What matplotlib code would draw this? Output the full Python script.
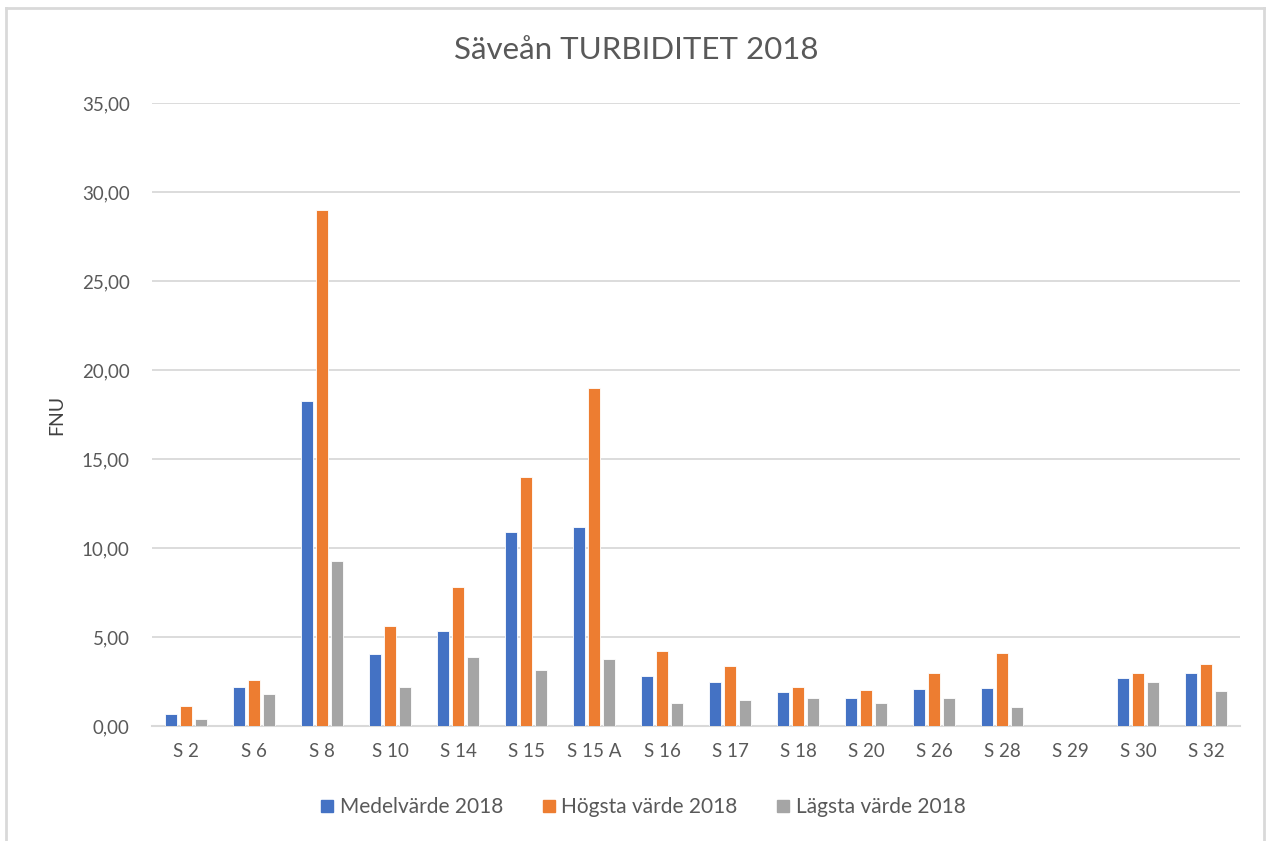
import matplotlib
matplotlib.use("Agg")
import matplotlib.pyplot as plt
import numpy as np
from matplotlib.lines import Line2D
from matplotlib.ticker import FuncFormatter

# Säveån turbiditet 2018 (FNU)
stations = ["S 2", "S 6", "S 8", "S 10", "S 14", "S 15", "S 15 A", "S 16",
            "S 17", "S 18", "S 20", "S 26", "S 28", "S 29", "S 30", "S 32"]
medel = [0.66, 2.18, 18.24, 4.06, 5.32, 10.88, 11.16, 2.80,
         2.46, 1.90, 1.56, 2.10, 2.12, 0.0, 2.67, 2.97]
hogsta = [1.13, 2.59, 29.0, 5.60, 7.81, 14.0, 19.0, 4.21,
          3.36, 2.18, 2.05, 2.95, 4.08, 0.0, 2.97, 3.51]
lagsta = [0.38, 1.77, 9.25, 2.18, 3.85, 3.16, 3.78, 1.28,
          1.48, 1.56, 1.28, 1.56, 1.07, 0.0, 2.46, 1.97]

series = [
    ("Medelvärde 2018", medel, "#4472C4"),
    ("Högsta värde 2018", hogsta, "#ED7D31"),
    ("Lägsta värde 2018", lagsta, "#A5A5A5"),
]

plt.rcParams["font.family"] = ["Lato", "DejaVu Sans"]
text_col = "#595959"
grid_col = "#D9D9D9"

fig = plt.figure(figsize=(12.66, 8.41), dpi=100)
ax = fig.add_axes([152 / 1266, 1 - 726 / 841, (1240 - 152) / 1266, (726 - 103) / 841])

x = np.arange(len(stations))
width = 0.17
step = 0.22
for i, (name, vals, col) in enumerate(series):
    ax.bar(x + (i - 1) * step, vals, width, color=col, label=name,
           edgecolor="white", linewidth=0.6, zorder=3)

ax.set_xlim(-0.5, len(stations) - 0.5)
ax.set_ylim(0, 35)
ax.set_yticks(np.arange(0, 36, 5))
ax.yaxis.set_major_formatter(FuncFormatter(lambda v, p: f"{v:.2f}".replace(".", ",")))
ax.set_xticks(x)
ax.set_xticklabels(stations)
ax.tick_params(axis="both", length=0, labelsize=13.5, colors=text_col)
ax.tick_params(axis="y", pad=16)
ax.tick_params(axis="x", pad=12)

ax.grid(axis="y", color=grid_col, linewidth=1.3, zorder=0)
for s in ["top", "right", "left"]:
    ax.spines[s].set_visible(False)
ax.spines["bottom"].set_color(grid_col)
ax.spines["bottom"].set_linewidth(1.5)

ax.set_ylabel("FNU", fontsize=14, color="#404040", labelpad=12)
fig.text(636 / 1266, 1 - 50 / 841, "Säveån TURBIDITET 2018", ha="center", va="center",
         fontsize=22.5, color=text_col)

handles = [Line2D([], [], marker="s", linestyle="none", markersize=9, color=c) for _, _, c in series]
fig.legend(handles, [n for n, _, _ in series], loc="center", bbox_to_anchor=(640 / 1266, 1 - 807 / 841),
           ncol=3, frameon=False, fontsize=15, labelcolor=text_col, handletextpad=0.0,
           handlelength=1.2, columnspacing=1.6)

# chart frame
fig.add_artist(Line2D([6 / 1266, 6 / 1266], [0, 1 - 8 / 841], color=grid_col, linewidth=2, transform=fig.transFigure))
fig.add_artist(Line2D([6 / 1266, 1264 / 1266], [1 - 8 / 841, 1 - 8 / 841], color=grid_col, linewidth=2, transform=fig.transFigure))
fig.add_artist(Line2D([1264 / 1266, 1264 / 1266], [0, 1 - 8 / 841], color=grid_col, linewidth=2, transform=fig.transFigure))

fig.savefig("out.png", dpi=100)
